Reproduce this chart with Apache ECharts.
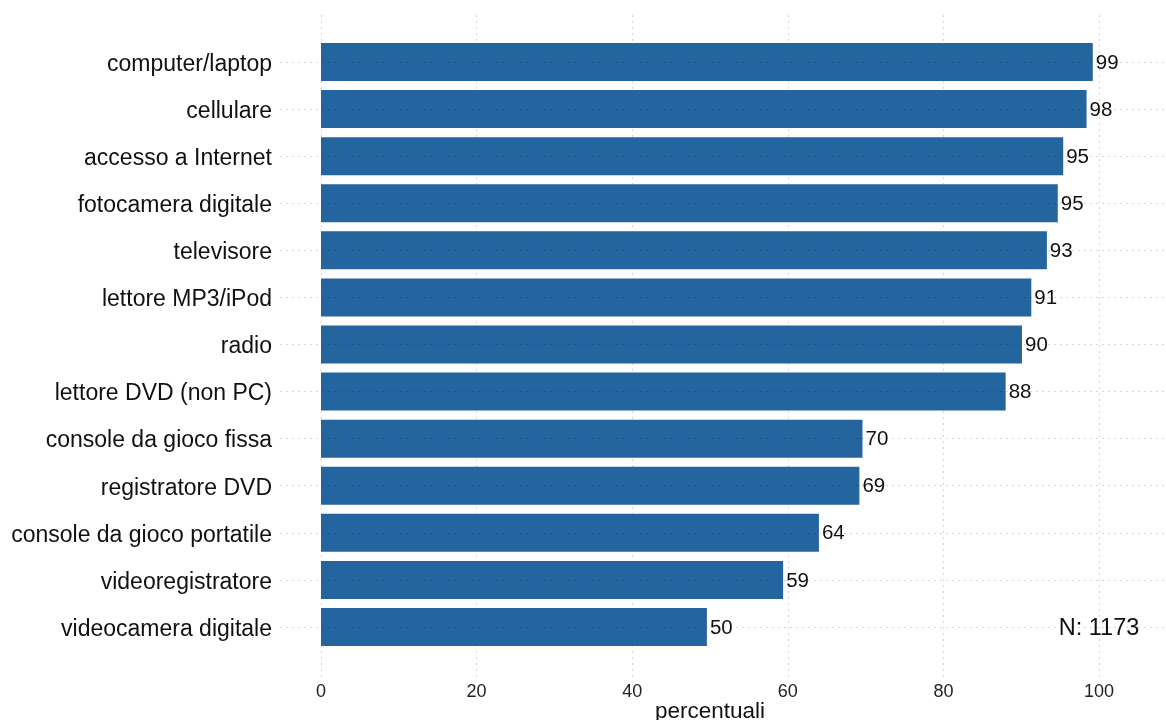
<!DOCTYPE html>
<html><head><meta charset="utf-8">
<script src="https://cdn.jsdelivr.net/npm/echarts@6/dist/echarts.min.js"></script>
<style>html,body{margin:0;padding:0;background:#fff}#c{width:1166px;height:720px}</style>
</head><body><div id="c"></div>
<script>
const categories = ["computer/laptop","cellulare","accesso a Internet","fotocamera digitale","televisore","lettore MP3/iPod","radio","lettore DVD (non PC)","console da gioco fissa","registratore DVD","console da gioco portatile","videoregistratore","videocamera digitale"];
const values = [99.2,98.4,95.4,94.7,93.3,91.3,90.1,88.0,69.6,69.2,64.0,59.4,49.6];
const xTicks = [0,20,40,60,80,100];
const noteText = "N: 1173";
const noteX = 100;

const FONT = "Liberation Sans, Arial, Helvetica, sans-serif";
const PX0 = 321, PX100 = 1099;
const k = (PX100 - PX0) / 100;
const xmin = -(PX0 - 280) / k;
const xmax = (1166 - PX0) / k;
const cats = categories.slice().reverse();
const vals = values.slice().reverse();
const grid = 'rgba(0,0,0,0.16)';

const chart = echarts.init(document.getElementById('c'), null, {renderer:'canvas'});
chart.setOption({
  animation:false,
  backgroundColor:'#fff',
  grid:[
    {left:280, right:0, top:38.5, height:612, containLabel:false, outerBoundsMode:'none'},
    {left:PX0, right:1166-PX100, top:15, bottom:42, containLabel:false, outerBoundsMode:'none'}
  ],
  xAxis:[
    {gridIndex:0, type:'value', min:xmin, max:xmax, show:false, splitLine:{show:false}},
    {gridIndex:1, type:'value', min:0, max:100, interval:20,
     axisLine:{show:false}, axisTick:{show:false},
     axisLabel:{color:'#222', fontSize:18, fontFamily:FONT, margin:5,
       customValues:xTicks},
     splitLine:{show:true, lineStyle:{color:grid, type:[2,4], width:1}},
     name:'percentuali', nameLocation:'middle', nameGap:33.5, nameMoveOverlap:false,
     nameTextStyle:{color:'#111', fontSize:22.5, fontFamily:FONT, verticalAlign:'middle'}}
  ],
  yAxis:[
    {gridIndex:0, type:'category', data:cats,
     axisLine:{show:false}, axisTick:{show:false},
     axisLabel:{color:'#111', fontSize:23, fontFamily:FONT, margin:8,
       formatter:v=>'{a|'+v+'}',
       rich:{a:{color:'#111', fontSize:23, fontFamily:FONT, padding:[5,0,0,0]}}},
     splitLine:{show:false}},
    {gridIndex:1, type:'value', min:0, max:1, show:false, splitLine:{show:false}}
  ],
  series:[
    {type:'line', xAxisIndex:0, yAxisIndex:0, data:[], z:1, silent:true, showSymbol:false,
     markLine:{silent:true, symbol:'none', label:{show:false},
       lineStyle:{color:grid, type:[2,4], width:1},
       data:cats.map(c=>({yAxis:c}))}},
    {type:'bar', xAxisIndex:0, yAxisIndex:0, data:vals, barWidth:38, z:3,
     itemStyle:{color:'#24649F'},
     label:{show:true, position:'right', distance:3, color:'#111', fontSize:20.5, fontFamily:FONT,
       offset:[0,1], formatter:p=>Math.round(p.value)}},
    {type:'scatter', xAxisIndex:0, yAxisIndex:0, symbolSize:1, z:4, silent:true,
     itemStyle:{color:'rgba(255,255,255,0)'},
     data:[[noteX, cats[0]]],
     label:{show:true, position:'inside', offset:[0,2], formatter:noteText, color:'#111',
       textBorderWidth:0, opacity:1, fontSize:23.5, fontFamily:FONT}}
  ]
});
</script></body></html>
